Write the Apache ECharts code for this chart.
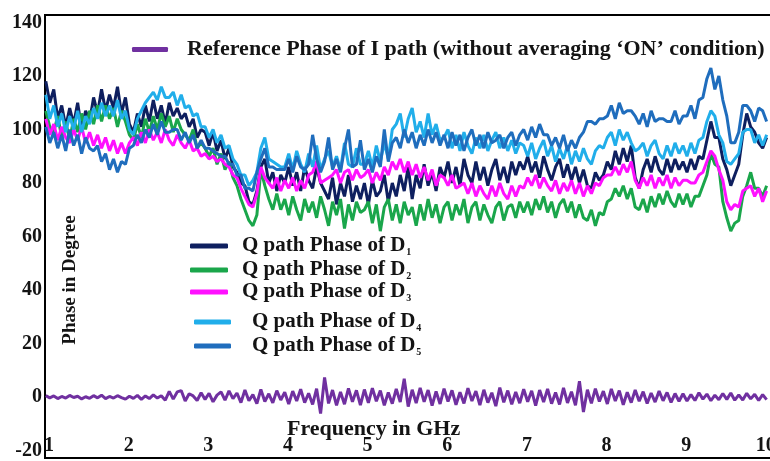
<!DOCTYPE html>
<html>
<head>
<meta charset="utf-8">
<script src="https://cdn.jsdelivr.net/npm/echarts@6.0.0/dist/echarts.min.js"></script>
<style>
  html, body { margin: 0; padding: 0; background: #fff; }
  #chart { width: 770px; height: 461px; }
</style>
</head>
<body>
<div id="chart"></div>
<script>
// Frequency sweep: 0.96 GHz to 10.01 GHz in 50 MHz steps (182 points)
const sweepStartGHz = 0.96;
const sweepStepGHz = 0.05;
const sweepPoints = 182;
const freqGHz = Array.from({ length: sweepPoints }, (_, i) => +(sweepStartGHz + i * sweepStepGHz).toFixed(2));

const xTickLabels = [1, 2, 3, 4, 5, 6, 7, 8, 9, 10];
const yTickLabels = [-20, 0, 20, 40, 60, 80, 100, 120, 140];

// Measured phase (degrees), one row per GHz band
const phaseD1 = [
  118,110,115,104,109,101,108,102,110,100,107,103,112,106,115,107,113,108,116,106,
  112,102,99,106,101,109,103,111,104,109,102,110,105,108,104,106,101,104,97,100,
  99,94,99,92,96,89,93,86,84,80,79,73,72,77,86,89,80,84,77,83,
  80,86,79,84,77,86,81,78,86,80,77,74,82,72,80,75,83,73,79,74,
  80,72,81,75,77,83,73,80,75,83,77,86,74,83,78,87,79,84,77,86,
  82,88,80,86,79,89,83,80,88,81,86,79,85,89,81,86,80,88,83,88,
  85,90,84,88,82,90,85,81,86,89,82,87,81,86,80,85,79,78,84,81,
  83,88,85,92,87,93,88,94,82,78,85,89,84,90,85,83,89,84,89,85,
  88,84,89,85,90,89,96,103,97,97,89,85,79,83,87,98,106,101,99,95,
  93,97
];

const phaseD2 = [
  107,101,99,105,97,103,96,104,99,106,100,107,102,109,103,109,104,108,101,107,
  103,98,96,102,97,104,99,105,100,106,101,105,99,104,100,98,96,100,93,95,
  93,90,93,87,91,85,88,82,79,74,70,66,64,68,85,79,74,70,76,70,
  74,68,75,70,66,74,69,73,67,75,70,64,73,68,74,63,72,66,73,69,
  70,73,65,72,62,71,74,66,72,65,73,68,71,64,72,66,74,67,72,65,
  71,73,66,72,68,74,65,71,73,66,72,68,65,71,73,66,71,72,67,73,
  69,73,68,74,70,75,69,73,67,72,74,69,73,67,72,67,66,70,64,69,
  68,73,74,78,75,79,74,78,71,70,74,69,75,71,76,72,77,73,71,76,
  72,76,71,75,75,79,83,91,87,86,73,67,62,65,66,75,79,84,78,78,
  75,79
];

const phaseD3 = [
  104,98,102,96,101,97,95,100,96,101,95,99,94,98,93,97,92,96,91,95,
  91,95,97,94,99,95,100,96,99,95,100,96,94,98,95,93,96,92,93,90,
  91,89,90,88,89,87,86,83,82,78,75,72,71,76,86,82,80,78,82,77,
  81,78,82,77,81,78,83,84,88,80,81,82,83,85,80,84,85,81,85,82,
  83,85,80,84,81,86,83,88,85,89,84,88,83,87,82,86,81,85,79,83,
  82,79,83,78,79,80,76,80,75,79,76,74,79,75,80,76,74,79,75,79,
  78,82,79,83,78,82,79,77,81,76,80,77,81,76,80,75,79,76,80,79,
  82,83,83,86,83,87,84,88,81,78,82,79,83,78,82,79,83,78,82,79,
  81,81,80,80,83,84,88,92,90,85,81,73,70,72,71,77,78,79,75,78,
  73,77
];

const phaseD4 = [
  113,104,109,101,106,99,105,100,107,99,105,102,108,104,110,105,109,105,111,104,
  107,100,98,104,107,110,112,114,111,116,112,112,114,109,113,108,109,105,106,101,
  101,97,100,95,98,93,94,89,87,83,83,79,81,84,93,97,89,88,87,86,
  86,91,85,92,87,84,91,86,94,85,89,92,86,90,85,95,87,86,93,87,
  87,92,86,94,88,95,89,100,102,106,97,104,108,99,103,97,106,98,102,96,
  97,100,93,98,92,99,94,91,97,93,98,92,96,99,93,97,92,96,91,95,
  94,90,95,89,93,96,90,94,88,93,89,94,87,92,88,93,89,87,92,94,
  93,97,99,94,100,96,99,95,92,93,95,90,94,96,91,89,94,90,95,91,
  94,90,95,91,96,97,103,107,105,98,95,88,87,89,91,99,100,100,95,98,
  94,98
];

const phaseD5 = [
  101,95,99,93,98,92,100,94,98,91,97,93,92,94,88,91,85,89,84,88,
  87,93,94,98,95,100,97,102,98,103,99,99,100,100,96,99,95,98,93,96,
  93,93,92,91,90,90,87,87,83,83,78,78,77,84,89,93,86,86,85,85,
  85,89,84,90,86,85,87,98,89,84,88,97,85,89,84,93,100,86,87,96,
  85,89,84,90,86,100,88,95,97,93,100,95,99,93,98,94,100,95,99,94,
  98,93,99,94,98,92,97,100,94,98,93,99,95,96,98,93,97,99,94,98,
  100,96,101,97,102,98,98,94,97,93,98,92,96,93,97,99,103,103,102,104,
  104,105,109,104,110,106,107,107,105,102,106,101,107,103,104,104,103,103,107,102,
  105,105,109,104,111,112,119,123,115,120,111,105,95,95,99,109,109,107,103,108,
  107,103
];

const refPhaseI = [
  0.5,-0.3,0.4,-0.6,0.2,-0.4,0.6,-0.2,0.3,-0.7,0.1,-0.5,0.5,-0.3,0.7,-0.6,0.2,-0.4,0.5,-0.2,
  -0.8,0.3,-0.5,0.6,-0.9,0.4,-0.6,0.8,-0.4,0.5,-1.2,2.1,-0.8,1.9,2.4,-1.5,1.2,0.4,-1.3,1.6,
  -0.9,1.4,-1.8,0.7,1.9,-1.2,2.3,-0.6,1.5,-2.1,2.6,-1.4,0.9,-2.5,2.8,-1.7,1.2,-2.2,2.4,-1.1,
  1.8,-2.6,2.2,-1.5,2.9,-2.1,1.4,-2.8,3.1,-6.2,7.3,-2.4,2.6,-3.1,1.9,-2.7,3.2,-1.8,2.5,-3.0,
  2.8,-2.2,3.3,-1.6,2.4,-3.1,1.7,-2.5,3.0,-1.9,6.8,-3.6,2.7,-2.3,3.4,-1.8,2.6,-3.2,2.1,-2.6,
  3.1,-1.7,2.5,-2.9,1.8,-2.4,3.3,-1.5,2.2,-3.0,2.7,-2.1,1.6,-3.4,3.5,-2.0,2.4,-2.7,1.9,-2.3,
  2.9,-1.8,2.3,-3.2,2.6,-1.9,3.0,-2.5,1.7,-2.8,3.4,-2.2,2.0,-3.1,5.9,-5.6,2.7,-2.4,3.1,-1.7,
  2.2,-2.6,3.0,-1.5,2.4,-2.9,1.8,-2.1,2.6,-1.6,2.0,-2.4,1.5,-1.9,2.2,-1.4,1.7,-2.0,1.3,-1.6,
  1.2,-1.5,0.9,-1.3,1.6,-0.8,1.1,-1.4,0.7,-1.0,1.3,-0.9,1.5,-1.2,0.8,-1.1,1.4,-0.7,1.0,-1.3,
  0.9,-1.0
];

const refName = 'Reference Phase of I path (without averaging ‘ON’ condition)';
const qNames = ['Q path Phase of D1', 'Q path Phase of D2', 'Q path Phase of D3', 'Q path Phase of D4', 'Q path Phase of D5'];

const SERIF = '"Liberation Serif", "DejaVu Serif", serif';
const INK = '#141414';

const traces = [
  { name: refName,    values: refPhaseI, color: '#7030a0' },
  { name: qNames[0],  values: phaseD1,   color: '#0e1f5f' },
  { name: qNames[1],  values: phaseD2,   color: '#1aa64b' },
  { name: qNames[2],  values: phaseD3,   color: '#ff10ff' },
  { name: qNames[3],  values: phaseD4,   color: '#21aeea' },
  { name: qNames[4],  values: phaseD5,   color: '#1f6dbd' }
];

// Legend text with the device index as a subscript
const subFormatter = name => name.replace(/D(\d)$/, 'D{sub|$1}');

function legendBlock(names, left, top, iconW, padLeft, fontSize, lineH) {
  return {
    data: names,
    left: left,
    top: top,
    orient: 'vertical',
    padding: 0,
    itemWidth: iconW,
    itemHeight: 5,
    icon: 'roundRect',
    selectedMode: false,
    formatter: subFormatter,
    textStyle: {
      fontFamily: SERIF,
      fontWeight: 'bold',
      fontSize: fontSize,
      lineHeight: lineH,
      color: INK,
      padding: [0, 0, 0, padLeft],
      rich: {
        sub: { fontFamily: SERIF, fontWeight: 'bold', fontSize: 10, lineHeight: 10, verticalAlign: 'bottom', color: INK, padding: [0, 0, 0, 1] }
      }
    }
  };
}

const chart = echarts.init(document.getElementById('chart'), null, { renderer: 'canvas' });

chart.setOption({
  animation: false,
  backgroundColor: '#ffffff',
  textStyle: { fontFamily: SERIF },
  grid: {
    left: 45, top: 15, right: -3, bottom: 3,
    outerBoundsMode: 'none',
    containLabel: false,
    show: true, borderColor: '#000', borderWidth: 2, backgroundColor: 'transparent'
  },
  xAxis: {
    type: 'value',
    min: 0.95,
    max: 10.09,
    splitLine: { show: false },
    axisLine: { show: false },
    axisTick: { show: false },
    axisLabel: {
      inside: true,
      margin: 2,
      customValues: xTickLabels,
      fontFamily: SERIF,
      fontWeight: 'bold',
      fontSize: 20,
      color: INK
    }
  },
  yAxis: {
    type: 'value',
    min: -22.8,
    max: 142.8,
    splitLine: { show: false },
    axisLine: { show: false },
    axisTick: { show: false },
    axisLabel: {
      margin: 3,
      customValues: yTickLabels,
      fontFamily: SERIF,
      fontWeight: 'bold',
      fontSize: 20,
      color: INK
    }
  },
  legend: [
    legendBlock([refName], 132, 37, 36, 14, 22, 25),
    legendBlock([qNames[0]], 190, 235, 38, 9, 21, 22),
    legendBlock([qNames[1]], 190, 259, 38, 9, 21, 22),
    legendBlock([qNames[2]], 190, 281, 38, 9, 21, 22),
    legendBlock([qNames[3]], 194, 311, 37, 16, 21, 22),
    legendBlock([qNames[4]], 194, 335, 37, 16, 21, 22)
  ],
  graphic: [
    {
      type: 'text',
      left: 287,
      top: 418,
      style: { text: 'Frequency in GHz', fontFamily: SERIF, fontWeight: 'bold', fontSize: 22, fill: INK }
    },
    {
      type: 'text',
      x: 70,
      y: 280,
      rotation: Math.PI / 2,
      style: { text: 'Phase in Degree', fontFamily: SERIF, fontWeight: 'bold', fontSize: 19, fill: INK, align: 'center', verticalAlign: 'middle' }
    }
  ],
  series: traces.map(t => ({
    name: t.name,
    type: 'line',
    showSymbol: false,
    symbol: 'none',
    silent: true,
    color: t.color,
    lineStyle: { width: 3, color: t.color },
    itemStyle: { color: t.color },
    data: freqGHz.map((f, i) => [f, t.values[i]])
  }))
});
</script>
</body>
</html>
